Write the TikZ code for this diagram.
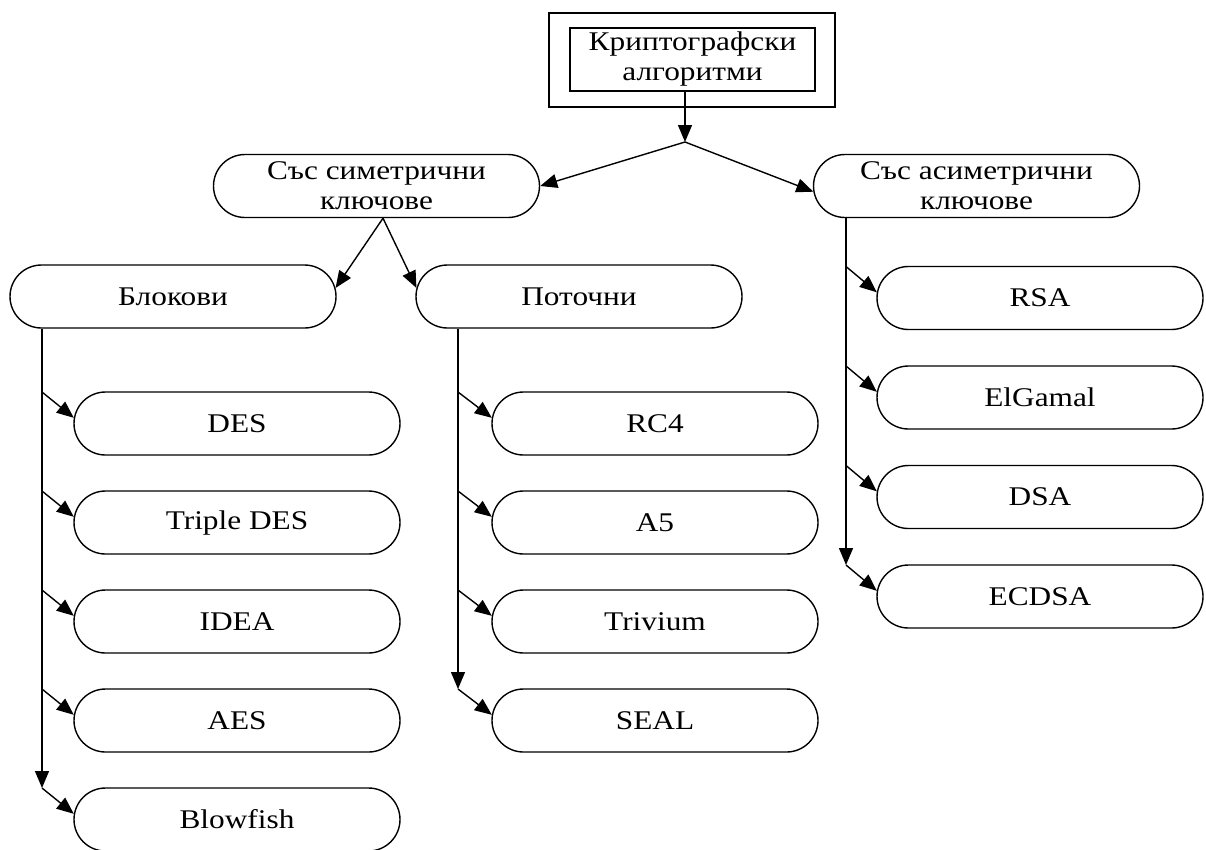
\documentclass[tikz,border=0pt]{standalone}
\usepackage{fontspec}
\setmainfont{Liberation Serif}[FakeStretch=1.16]
\usetikzlibrary{shapes.misc, arrows.meta, math}

\begin{document}
\begin{tikzpicture}[x=1pt, y=-1pt, line width=1.4pt,
  every node/.style={font=\fontsize{27}{30}\selectfont},
  tip/.style={-{Triangle[length=17pt,width=14pt]}},
  pill/.style={draw, rounded rectangle, minimum width=326pt, minimum height=63pt, inner sep=0pt, align=center}]

\tikzmath{
			\rowgap = 99; \toprow = 423.5;
			\xa = 42; \xb = 458; \xc = 846;
          }

\clip (0,0) rectangle (1206,849);

% root
\node[draw, minimum width=245pt, minimum height=63pt, inner sep=0pt, align=center] (alg) at (692.5,59.5) {Криптографски\\алгоритми};
\node[draw, minimum width=286pt, minimum height=94pt] (frame) at (692,60) {};

\node[pill] (sym)  at (376.5,186) {Със симетрични\\ключове};
\node[pill] (asym) at (976.5,186) {Със асиметрични\\ключове};
\node[pill] (blk)  at (173,296.5) {Блокови};
\node[pill] (str)  at (579,296.5) {Поточни};

% leaves
\foreach \n/\t [count=\i from 0] in {des/DES, tdes/Triple DES, idea/IDEA, aes/AES, bf/Blowfish}{
  \node[pill] (\n) at (237, \toprow + \i*\rowgap) {\t};
  \coordinate (b\i) at (\xa, \toprow - 31.5 + \i*\rowgap);
}
\foreach \n/\t [count=\i from 0] in {rc4/RC4, a5/A5, triv/Trivium, seal/SEAL}{
  \node[pill] (\n) at (655, \toprow + \i*\rowgap) {\t};
  \coordinate (s\i) at (\xb, \toprow - 31.5 + \i*\rowgap);
}
\foreach \n/\t [count=\i from 0] in {rsa/RSA, elg/ElGamal, dsa/DSA, ecdsa/ECDSA}{
  \node[pill] (\n) at (1040, 298 + \i*99.5) {\t};
  \coordinate (a\i) at (\xc, 266.5 + \i*99.5);
}

% edges
\coordinate (j0) at (685,142);
\coordinate (j1) at ([xshift=6.5pt]sym.south);
\draw[tip] (j0 |- alg.south) -- (j0);
\draw[tip] (j0) -- (sym.east);
\draw[tip] (j0) -- (asym.182);
\draw[tip] (j1) -- (blk.3);
\draw[tip] (j1) -- (str.177);

\draw[tip] (blk.south -| b0) -- (b4);
\foreach \n [count=\i from 0] in {des, tdes, idea, aes, bf}
  \draw[tip] (b\i) -- (\n.178);

\draw[tip] (str.south -| s0) -- (s3);
\foreach \n [count=\i from 0] in {rc4, a5, triv, seal}
  \draw[tip] (s\i) -- (\n.178);

\draw[tip] (asym.south -| a0) -- (a3);
\foreach \n [count=\i from 0] in {rsa, elg, dsa, ecdsa}
  \draw[tip] (a\i) -- (\n.178);

\end{tikzpicture}
\end{document}
